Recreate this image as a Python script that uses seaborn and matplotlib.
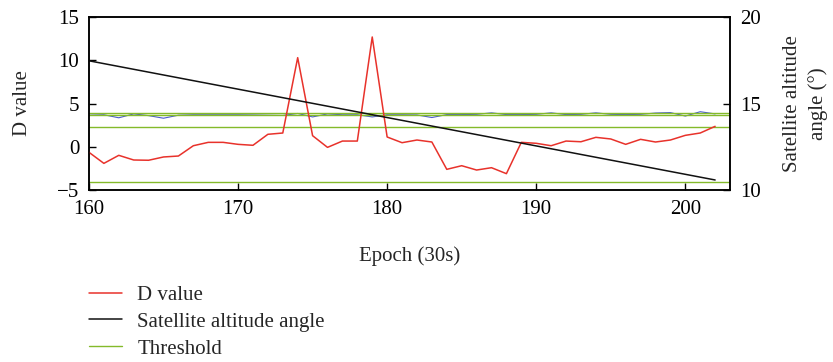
import numpy as np
import pandas as pd
import matplotlib
matplotlib.use("Agg")
import matplotlib.pyplot as plt
import seaborn as sns

# ---- data ----
epochs = list(range(160, 203))
d_value = [-0.64, -1.92, -0.99, -1.53, -1.56, -1.18, -1.07, 0.12, 0.51, 0.51,
           0.28, 0.17, 1.44, 1.59, 10.3, 1.28, -0.07, 0.66, 0.66, 12.69,
           1.13, 0.47, 0.78, 0.55, -2.61, -2.19, -2.69, -2.42, -3.11, 0.51,
           0.40, 0.12, 0.66, 0.58, 1.09, 0.90, 0.28, 0.86, 0.55, 0.78,
           1.32, 1.59, 2.36]
blue_value = [3.65, 3.70, 3.35, 3.80, 3.60, 3.30, 3.65, 3.70, 3.70, 3.70,
              3.70, 3.68, 3.65, 3.62, 3.85, 3.45, 3.80, 3.70, 3.70, 3.45,
              3.70, 3.70, 3.68, 3.38, 3.72, 3.72, 3.75, 3.92, 3.72, 3.72,
              3.75, 3.92, 3.72, 3.75, 3.92, 3.75, 3.72, 3.75, 3.90, 3.95,
              3.55, 4.05, 3.80]
angle_epochs = [160, 202]
angle_values = [17.47, 10.58]
thresholds = [3.94, 3.67, 2.25, -4.04]

x_ticks = [160, 170, 180, 190, 200]
y_left_ticks = [-5, 0, 5, 10, 15]
y_right_ticks = [10, 15, 20]

RED = "#e8322b"
BLACK = "#111111"
GREEN = "#84ba2a"
BLUE = "#4a5ad0"

sns.set_theme(style="ticks")
plt.rcParams["font.family"] = ["Liberation Serif", "DejaVu Serif"]
plt.rcParams["axes.unicode_minus"] = True
FS = 15

fig = plt.figure(figsize=(8.33, 3.62), dpi=100)
ax = fig.add_axes([0.1068, 0.4751, 0.8764 - 0.1068, 0.953 - 0.4751])

df = pd.DataFrame({"epoch": epochs, "d": d_value, "blue": blue_value})

sns.lineplot(data=df, x="epoch", y="blue", ax=ax, color=BLUE, lw=0.8, legend=False)
for i, t in enumerate(thresholds):
    ax.axhline(t, color=GREEN, lw=1.0, label="Threshold" if i == 0 else None, zorder=2.5)
sns.lineplot(data=df, x="epoch", y="d", ax=ax, color=RED, lw=1.1, label="D value", zorder=3)

ax2 = ax.twinx()
adf = pd.DataFrame({"epoch": angle_epochs, "angle": angle_values})
sns.lineplot(data=adf, x="epoch", y="angle", ax=ax2, color=BLACK, lw=1.1,
             label="Satellite altitude angle", legend=False)

ax.set_xlim(160, 203)
ax.set_ylim(-5, 15)
ax2.set_ylim(10, 20)
ax.set_xticks(x_ticks)
ax.set_yticks(y_left_ticks)
ax2.set_yticks(y_right_ticks)

for a in (ax, ax2):
    for s in a.spines.values():
        s.set_visible(True)
        s.set_linewidth(1.1)
        s.set_color("black")
ax.tick_params(axis="both", direction="in", length=5, width=1.0, labelsize=FS, pad=7,
               colors="black", top=False, right=False)
ax2.tick_params(axis="y", direction="in", length=5, width=1.0, labelsize=FS, pad=7,
                colors="black")

ax.set_xlabel("Epoch (30s)", fontsize=FS, labelpad=20)
ax.set_ylabel("D value", fontsize=FS, labelpad=18)
ax2.set_ylabel("Satellite altitude\nangle (°)", fontsize=FS, labelpad=16, linespacing=1.4)

leg = ax.get_legend()
if leg is not None:
    leg.remove()
h1, l1 = ax.get_legend_handles_labels()
h2, l2 = ax2.get_legend_handles_labels()
hd = dict(zip(l1 + l2, h1 + h2))
order = ["D value", "Satellite altitude angle", "Threshold"]
fig.legend([hd[k] for k in order], order, loc="upper left",
           bbox_to_anchor=(0.107, 0.212), frameon=False, fontsize=FS,
           handlelength=1.6, handletextpad=0.72, labelspacing=0.35,
           borderaxespad=0, borderpad=0)

fig.savefig("out.png", dpi=100)
